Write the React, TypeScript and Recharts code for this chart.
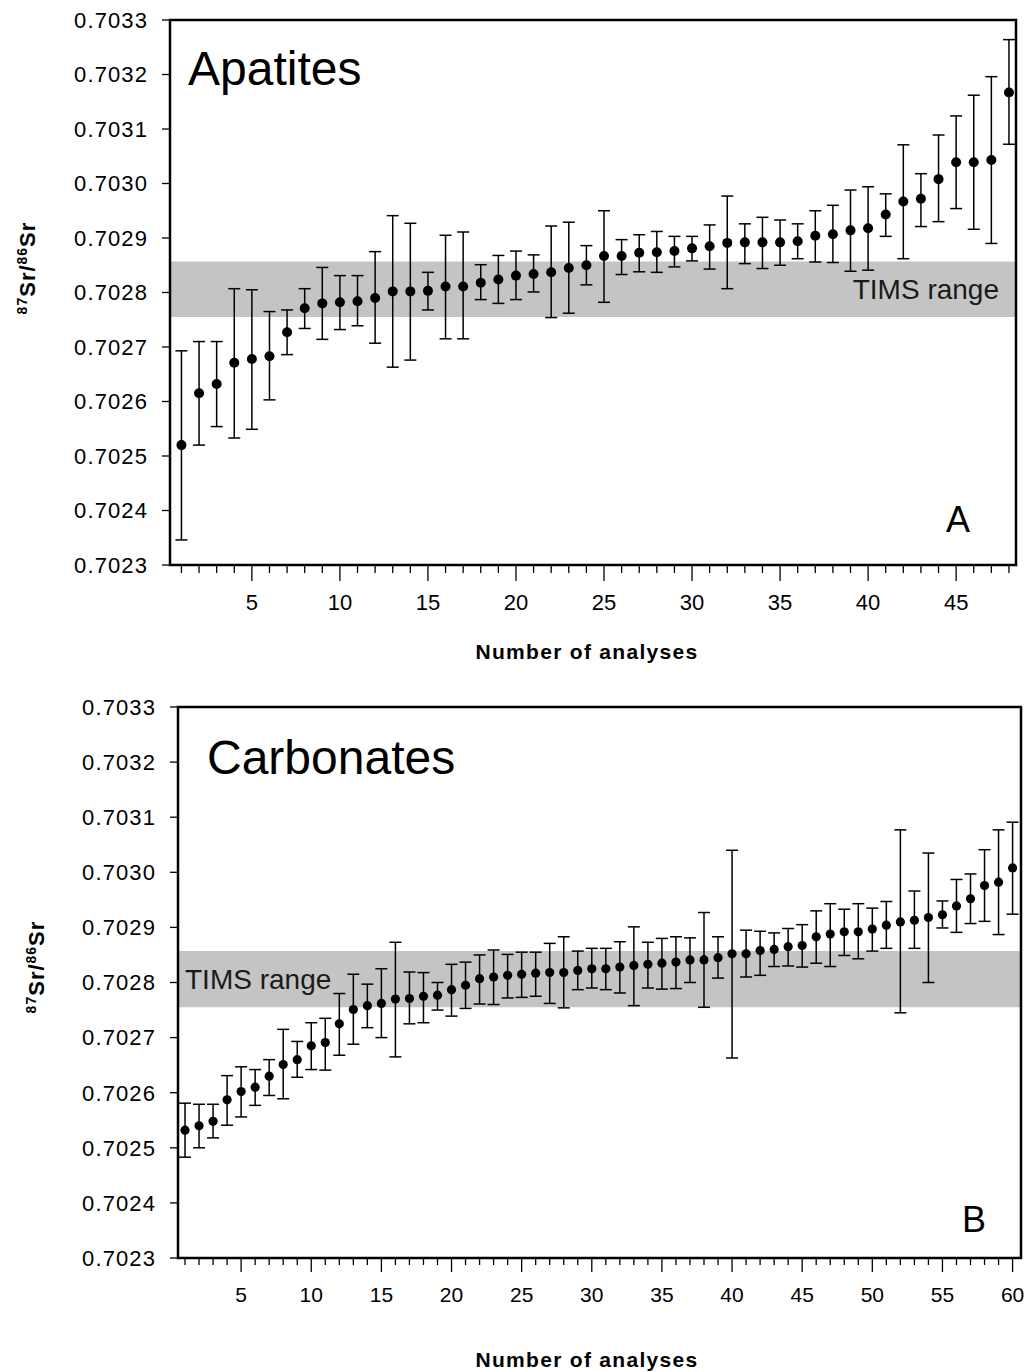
import { ScatterChart, Scatter, XAxis, YAxis, ErrorBar, ReferenceArea } from "recharts";

// 87Sr/86Sr by LA-ICPMS, ordered by value (panel A: apatites, panel B: carbonates)
const APATITE_MEAN = [
  0.70252, 0.702615, 0.702632, 0.702671, 0.702678, 0.702683, 0.702727, 0.702771, 0.70278, 0.702782,
  0.702784, 0.70279, 0.702802, 0.702802, 0.702803, 0.702811, 0.702811, 0.702818, 0.702824, 0.702831,
  0.702834, 0.702837, 0.702845, 0.70285, 0.702867, 0.702867, 0.702873, 0.702874, 0.702876, 0.702881,
  0.702885, 0.702891, 0.702892, 0.702892, 0.702892, 0.702894, 0.702904, 0.702907, 0.702914, 0.702918,
  0.702943, 0.702967, 0.702972, 0.703008, 0.703039, 0.703039, 0.703043, 0.703167,
];
const APATITE_LOW = [
  0.702346, 0.70252, 0.702554, 0.702533, 0.702549, 0.702603, 0.702686, 0.702734, 0.702714, 0.702732,
  0.702739, 0.702707, 0.702663, 0.702676, 0.702768, 0.702715, 0.702715, 0.702787, 0.70278, 0.702787,
  0.702801, 0.702754, 0.702762, 0.702814, 0.702782, 0.702833, 0.702838, 0.702837, 0.702847, 0.702858,
  0.702843, 0.702807, 0.702853, 0.702844, 0.70285, 0.702862, 0.702856, 0.702855, 0.702839, 0.702841,
  0.702903, 0.702862, 0.702921, 0.70293, 0.702954, 0.702916, 0.70289, 0.703072,
];
const APATITE_HIGH = [
  0.702693, 0.70271, 0.70271, 0.702807, 0.702805, 0.702765, 0.702768, 0.702807, 0.702846, 0.702831,
  0.702831, 0.702875, 0.702941, 0.702927, 0.702837, 0.702905, 0.702911, 0.702851, 0.702868, 0.702876,
  0.702869, 0.702922, 0.702929, 0.702886, 0.70295, 0.702897, 0.702906, 0.702912, 0.702903, 0.702903,
  0.702924, 0.702977, 0.702926, 0.702938, 0.702933, 0.702926, 0.70295, 0.70296, 0.702988, 0.702994,
  0.702981, 0.703071, 0.703018, 0.703089, 0.703124, 0.703162, 0.703196, 0.703264,
];

const CARBONATE_MEAN = [
  0.702532, 0.70254, 0.702548, 0.702587, 0.702602, 0.70261, 0.70263, 0.702651, 0.70266, 0.702685,
  0.702691, 0.702725, 0.702751, 0.702758, 0.702762, 0.70277, 0.702771, 0.702775, 0.702777, 0.702787,
  0.702795, 0.702807, 0.70281, 0.702813, 0.702815, 0.702817, 0.702818, 0.702818, 0.702822, 0.702825,
  0.702825, 0.702828, 0.702831, 0.702833, 0.702835, 0.702837, 0.702841, 0.702841, 0.702845, 0.702852,
  0.702852, 0.702858, 0.70286, 0.702865, 0.702867, 0.702883, 0.702888, 0.702892, 0.702892, 0.702897,
  0.702904, 0.70291, 0.702913, 0.702918, 0.702923, 0.702939, 0.702952, 0.702976, 0.702982, 0.703008,
];
const CARBONATE_LOW = [
  0.702483, 0.7025, 0.702518, 0.702541, 0.702556, 0.702577, 0.702595, 0.702589, 0.702628, 0.702642,
  0.702641, 0.702668, 0.702688, 0.702718, 0.7027, 0.702665, 0.702725, 0.702727, 0.70275, 0.702739,
  0.702753, 0.702761, 0.70276, 0.702772, 0.702773, 0.702775, 0.702762, 0.702754, 0.702787, 0.70279,
  0.702787, 0.702781, 0.702758, 0.70279, 0.702788, 0.702789, 0.7028, 0.702755, 0.702808, 0.702663,
  0.70281, 0.702813, 0.702829, 0.70283, 0.702828, 0.702835, 0.702829, 0.702849, 0.702843, 0.702857,
  0.702862, 0.702745, 0.702862, 0.7028, 0.702899, 0.702891, 0.702907, 0.702911, 0.702887, 0.702924,
];
const CARBONATE_HIGH = [
  0.702581, 0.702579, 0.702579, 0.702631, 0.702647, 0.702642, 0.70266, 0.702715, 0.702693, 0.702727,
  0.702735, 0.70278, 0.702815, 0.702797, 0.702825, 0.702873, 0.702819, 0.702818, 0.7028, 0.702833,
  0.702837, 0.70285, 0.702859, 0.702851, 0.702855, 0.702855, 0.702871, 0.702883, 0.702857, 0.702862,
  0.702862, 0.702874, 0.702901, 0.702873, 0.70288, 0.702883, 0.702881, 0.702927, 0.702883, 0.70304,
  0.702895, 0.702893, 0.70289, 0.702898, 0.702905, 0.70293, 0.702943, 0.702933, 0.702943, 0.702935,
  0.702947, 0.703077, 0.702966, 0.703035, 0.702948, 0.702987, 0.702997, 0.703041, 0.703077, 0.703091,
];

const Y_TICKS = [0.7023, 0.7024, 0.7025, 0.7026, 0.7027, 0.7028, 0.7029, 0.703, 0.7031, 0.7032, 0.7033];
const Y_DOMAIN: [number, number] = [0.7023, 0.7033];
const TIMS_RANGE = [0.702755, 0.702857];
const APATITE_TICKS = Array.from({ length: 48 }, (_, i) => i + 1);
const CARBONATE_TICKS = Array.from({ length: 60 }, (_, i) => i + 1);
const LABELLED = [5, 10, 15, 20, 25, 30, 35, 40, 45, 50, 55, 60];

const FONT = "'Liberation Sans', Arial, Helvetica, sans-serif";

function buildRows(mean: number[], low: number[], high: number[]) {
  return mean.map((v, i) => ({ n: i + 1, sr: v, err: [v - low[i], high[i] - v] }));
}

const apatiteRows = buildRows(APATITE_MEAN, APATITE_LOW, APATITE_HIGH);
const carbonateRows = buildRows(CARBONATE_MEAN, CARBONATE_LOW, CARBONATE_HIGH);

// one tick per analysis, long + labelled every 5
function makeXTick(majorLen: number, minorLen: number, labelDy: number, size: number) {
  // eslint-disable-next-line @typescript-eslint/no-explicit-any
  return function XTick({ x, y, payload }: any) {
    const major = LABELLED.includes(payload.value);
    return (
      <g>
        <line x1={x} x2={x} y1={y} y2={y + (major ? majorLen : minorLen)} stroke="#000" strokeWidth={1.3} />
        {major && (
          <text x={x} y={y + labelDy} textAnchor="middle" fontSize={size} fontFamily={FONT} fill="#000">
            {payload.value}
          </text>
        )}
      </g>
    );
  };
}

// eslint-disable-next-line @typescript-eslint/no-explicit-any
const Dot = (r: number) => (props: any) => <circle cx={props.cx} cy={props.cy} r={r} fill="#000" />;

interface PanelProps {
  rows: { n: number; sr: number; err: number[] }[];
  ticks: number[];
  xDomain: [number, number];
  height: number;
  margin: { top: number; right: number; left: number; bottom: number };
  yWidth: number;
  xHeight: number;
  timsPos: "insideRight" | "insideLeft";
  timsOffset: number;
  timsSize: number;
  dotR: number;
  tick: ReturnType<typeof makeXTick>;
}

function Panel(p: PanelProps) {
  return (
    <ScatterChart width={1031} height={p.height} margin={p.margin}>
      <XAxis
        type="number"
        dataKey="n"
        domain={p.xDomain}
        ticks={p.ticks}
        interval={0}
        allowDataOverflow
        axisLine={false}
        tickLine={false}
        tickSize={0}
        tickMargin={0}
        height={p.xHeight}
        tick={<p.tick />}
      />
      <YAxis
        type="number"
        dataKey="sr"
        domain={Y_DOMAIN}
        ticks={Y_TICKS}
        interval={0}
        allowDataOverflow
        width={p.yWidth}
        axisLine={false}
        tickLine={{ stroke: "#000", strokeWidth: 1.3 }}
        tickSize={8}
        tickMargin={14}
        tickFormatter={(v: number) => v.toFixed(4)}
        tick={{ fontSize: 22, fill: "#000", fontFamily: FONT, letterSpacing: 1.1 }}
      />
      <ReferenceArea
        y1={TIMS_RANGE[0]}
        y2={TIMS_RANGE[1]}
        x1={p.xDomain[0]}
        x2={p.xDomain[1]}
        fill="#c4c4c4"
        fillOpacity={1}
        stroke="none"
        label={{
          value: "TIMS range",
          position: p.timsPos,
          offset: p.timsOffset,
          fontSize: p.timsSize,
          fill: "#1a1a1a",
          fontFamily: FONT,
        }}
      />
      <Scatter data={p.rows} fill="#000" shape={Dot(p.dotR)} isAnimationActive={false}>
        <ErrorBar dataKey="err" direction="y" width={6} stroke="#000" strokeWidth={1.5} isAnimationActive={false} />
      </Scatter>
      <ReferenceArea
        y1={Y_DOMAIN[0]}
        y2={Y_DOMAIN[1]}
        x1={p.xDomain[0]}
        x2={p.xDomain[1]}
        fill="none"
        stroke="#000"
        strokeWidth={2.5}
        ifOverflow="visible"
      />
    </ScatterChart>
  );
}

function SrLabel({ x, y }: { x: number; y: number }) {
  return (
    <text
      transform={`translate(${x},${y}) rotate(-90)`}
      textAnchor="middle"
      fontFamily={FONT}
      fontWeight="bold"
      fontSize={22}
      letterSpacing={1}
      fill="#000"
    >
      <tspan fontSize={14} dy={-8}>87</tspan>
      <tspan fontSize={22} dy={8}>Sr/</tspan>
      <tspan fontSize={14} dy={-8}>86</tspan>
      <tspan fontSize={22} dy={8}>Sr</tspan>
    </text>
  );
}

export default function App() {
  return (
    <div style={{ position: "absolute", left: 0, top: 0, width: 1031, height: 1372, background: "#fff" }}>
      <div style={{ position: "absolute", left: 0, top: 0 }}>
        <Panel
          rows={apatiteRows}
          ticks={APATITE_TICKS}
          xDomain={[0.35, 48.4]}
          height={690}
          margin={{ top: 20, right: 15, left: 0, bottom: 0 }}
          yWidth={170}
          xHeight={125}
          timsPos="insideRight"
          timsOffset={17}
          timsSize={28}
          dotR={5}
          tick={makeXTick(16, 8, 45, 22)}
        />
      </div>
      <div style={{ position: "absolute", left: 0, top: 690 }}>
        <Panel
          rows={carbonateRows}
          ticks={CARBONATE_TICKS}
          xDomain={[0.5, 60.6]}
          height={682}
          margin={{ top: 17, right: 10, left: 0, bottom: 0 }}
          yWidth={178}
          xHeight={114}
          timsPos="insideLeft"
          timsOffset={7}
          timsSize={28}
          dotR={4.6}
          tick={makeXTick(14, 7, 44, 21)}
        />
      </div>
      <svg
        width={1031}
        height={1372}
        style={{ position: "absolute", left: 0, top: 0, pointerEvents: "none" }}
      >
        <text x={188} y={85} fontSize={48} fontFamily={FONT} fill="#000">Apatites</text>
        <text x={946} y={532} fontSize={36} fontFamily={FONT} fill="#000">A</text>
        <text x={207} y={774} fontSize={48} fontFamily={FONT} fill="#000">Carbonates</text>
        <text x={962} y={1232} fontSize={36} fontFamily={FONT} fill="#000">B</text>
        <text x={587} y={659} textAnchor="middle" fontSize={21} fontWeight="bold" fontFamily={FONT} letterSpacing={1.3}>
          Number of analyses
        </text>
        <text x={587} y={1367} textAnchor="middle" fontSize={21} fontWeight="bold" fontFamily={FONT} letterSpacing={1.3}>
          Number of analyses
        </text>
        <SrLabel x={35} y={268} />
        <SrLabel x={44} y={967} />
      </svg>
    </div>
  );
}
